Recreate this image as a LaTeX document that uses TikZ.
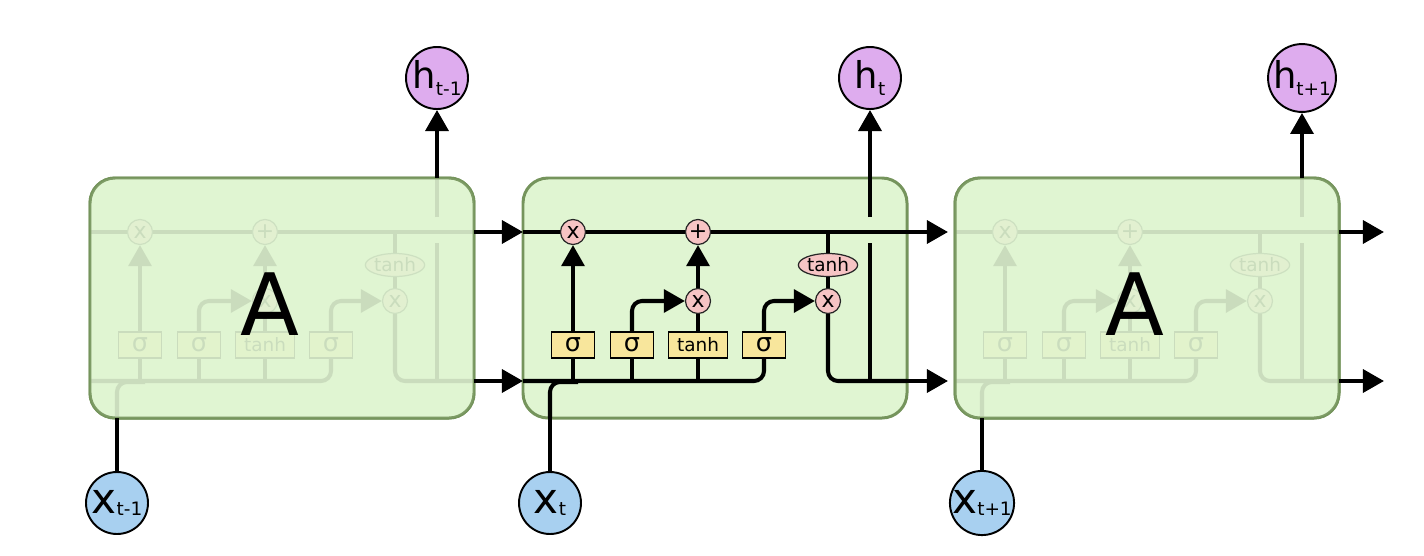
\documentclass[tikz,border=0pt]{standalone}
\usepackage{fontspec}
\setmainfont{DejaVu Sans}
\usetikzlibrary{arrows.meta,shapes.geometric}
\definecolor{cellfill}{RGB}{224,245,210}
\definecolor{cellborder}{RGB}{117,148,92}
\definecolor{gatefill}{RGB}{248,230,156}
\definecolor{opfill}{RGB}{246,196,196}
\definecolor{hfill}{RGB}{222,172,238}
\definecolor{xfill}{RGB}{168,208,240}
\tikzset{
  wire/.style={line width=2.3pt},
  arr/.style={wire, -{Triangle[length=12pt,width=13pt]}},
  rbend/.style={rounded corners=0.2cm},
  op/.style={circle, draw=black!85, line width=0.7pt, fill=opfill, minimum size=0.5cm, inner sep=0pt, font=\fontsize{12.5}{13}\selectfont},
  gate/.style={rectangle, draw, line width=0.8pt, fill=gatefill, minimum height=0.52cm, minimum width=0.86cm, inner sep=0pt, font=\fontsize{14.5}{15}\selectfont},
  tgate/.style={gate, minimum width=1.18cm, font=\fontsize{10.5}{11}\selectfont},
  tell/.style={ellipse, draw=black!85, line width=0.7pt, fill=opfill, minimum width=1.16cm, minimum height=0.46cm, inner sep=0pt, font=\fontsize{10.5}{11}\selectfont},
  hc/.style={circle, draw, line width=1.1pt, fill=hfill, minimum size=1.24cm, inner sep=0pt},
  xc/.style={circle, draw, line width=1.1pt, fill=xfill, minimum size=1.24cm, inner sep=0pt},
  cellbox/.style={rounded corners=0.5cm, line width=1.7pt},
  pics/lstm/.style n args={2}{code={
    \fill[cellfill, cellbox] (0,178) rectangle (384,418);
    \draw[cellborder, cellbox] (0,178) rectangle (384,418);
    \coordinate (-cin) at (0,232);
    \coordinate (-hin) at (0,381);
    \coordinate (-cout) at (384,232);
    \coordinate (-hout) at (384,381);
    \coordinate (-cinarr) at (-7,232);
    \coordinate (-hinarr) at (-7,381);
    \coordinate (-xb) at (27,418);
    \coordinate (-ht) at (347,178);
    \coordinate (-br) at (305,232);
    \node[op] (-fx) at (50,232) {x};
    \node[op] (-plus) at (175,232) {+};
    \node[op] (-ix) at (175,301) {x};
    \node[op] (-ox) at (305,301) {x};
    \node[tell] (-th) at (305,265) {tanh};
    \node[gate] (-g1) at (50,345) {σ};
    \node[gate] (-g2) at (109,345) {σ};
    \node[tgate] (-g3) at (175,345) {tanh};
    \node[gate] (-g4) at (241,345) {σ};
    \draw[wire] (-cin) -- (-fx);
    \draw[wire] (-fx) -- (-plus);
    \draw[wire] (-plus) -- (-cout);
    \draw[wire] (-br) -- (-th);
    \draw[wire] (-th) -- (-ox);
    \draw[wire, rbend] (-ox) |- (-hout);
    \draw[wire] (347,381) -- (347,243);
    \draw[wire] (347,217) -- (-ht);
    \draw[wire, rbend] (-hin) -| (-g4);
    \draw[wire, rbend] (-xb) |- (55,382);
    \draw[wire] (50,381) -- (-g1);
    \draw[wire] (109,381) -- (-g2);
    \draw[wire] (175,381) -- (-g3);
    \draw[arr] (-g1) -- (-fx);
    \draw[arr, rbend] (-g2) |- (-ix);
    \draw[wire] (-g3) -- (-ix);
    \draw[arr] (-ix) -- (-plus);
    \draw[arr, rbend] (-g4) |- (-ox);
    \path[fill=cellfill, fill opacity=#1, draw=cellborder, draw opacity=#1, cellbox] (0,178) rectangle (384,418);
    \node[font=\fontsize{49}{49}\selectfont] at (180,304) {#2};
  }}
}
\begin{document}
\begin{tikzpicture}[x=0.02cm, y=-0.02cm]
\useasboundingbox (0,0) rectangle (1424,555);
\pic (L) at (90,0) {lstm={0.9}{A}};
\pic (M) at (523,0) {lstm={0}{}};
\pic (R) at (955,0) {lstm={0.9}{A}};
\coordinate (C4) at (1384,232);
\coordinate (H4) at (1384,381);
\node[hc] (H1) at (437,78) {{\fontsize{21}{21}\selectfont h}\raisebox{-4.5pt}{\fontsize{10.5}{11}\selectfont t-1}};
\node[hc] (H2) at (870,78) {{\fontsize{21}{21}\selectfont h}\raisebox{-4.5pt}{\fontsize{10.5}{11}\selectfont t}};
\node[hc] (H3) at (1302,78) {{\fontsize{21}{21}\selectfont h}\raisebox{-4.5pt}{\fontsize{10.5}{11}\selectfont t+1}};
\node[xc] (X1) at (117,503) {{\fontsize{24}{24}\selectfont x}\raisebox{-1pt}{\fontsize{10.5}{11}\selectfont t-1}};
\node[xc] (X2) at (550,503) {{\fontsize{24}{24}\selectfont x}\raisebox{-1pt}{\fontsize{10.5}{11}\selectfont t}};
\node[xc] (X3) at (982,503) {{\fontsize{24}{24}\selectfont x}\raisebox{-1pt}{\fontsize{10.5}{11}\selectfont t+1}};
\draw[wire] (X1) -- (L-xb);
\draw[wire] (X2) -- (M-xb);
\draw[wire] (X3) -- (R-xb);
\draw[arr] (L-ht) -- (H1);
\draw[arr] (M-ht) -- (H2);
\draw[arr] (R-ht) -- (H3);
\draw[arr] (L-cout) -- (M-cin);
\draw[arr] (L-hout) -- (M-hin);
\draw[arr] (M-cout) -- (R-cinarr);
\draw[arr] (M-hout) -- (R-hinarr);
\draw[arr] (R-cout) -- (C4);
\draw[arr] (R-hout) -- (H4);
\end{tikzpicture}
\end{document}
